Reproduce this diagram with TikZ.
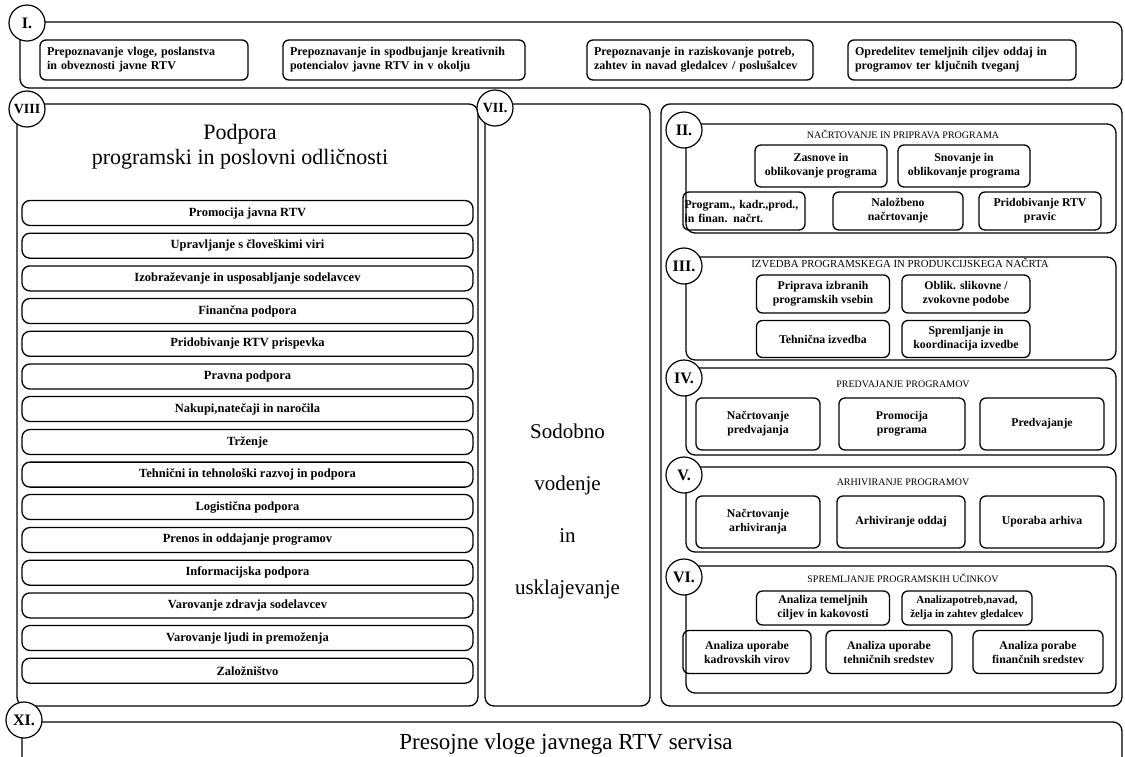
\documentclass[tikz,border=0pt]{standalone}
\usepackage{fontspec}
\setmainfont{Liberation Serif}
\begin{document}
\begin{tikzpicture}[x=1pt,y=-1pt,
 frame/.style={draw, line width=1.3pt, rounded corners=9pt, inner sep=0pt},
 num/.style={circle, draw, fill=white, line width=1.2pt, minimum size=36pt, inner sep=0pt, font=\fontsize{16}{16}\selectfont\bfseries},
 topbox/.style={draw, line width=1.3pt, rounded corners=6pt, align=left, font=\fontsize{12}{14}\selectfont\bfseries, minimum height=40pt, inner xsep=7pt},
 item/.style={draw, line width=1.3pt, rounded corners=8pt, minimum width=451pt, minimum height=25pt, inner sep=0pt, font=\fontsize{12.5}{14}\selectfont\bfseries},
 sbox/.style={draw, line width=1.3pt, rounded corners=6pt, align=center, inner sep=0pt, font=\fontsize{11.8}{14}\selectfont\bfseries},
 stitle/.style={font=\fontsize{10}{12}\selectfont, inner sep=0pt},
 big/.style={font=\fontsize{22}{25}\selectfont, align=center, inner sep=0pt}
]
\clip (0,0) rectangle (1125,756);
\fill[white] (0,0) rectangle (1125,756);

% ---- frames
\node[frame, minimum width=1102pt, minimum height=66pt] (fI) at (571,55) {};
\node[frame, minimum width=461pt, minimum height=602pt] (fVIII) at (247.5,405) {};
\node[frame, minimum width=165pt, minimum height=602pt] (fVII) at (567.5,405) {};
\node[frame, minimum width=461pt, minimum height=602pt] (fR) at (891.5,405) {};
\node[frame, minimum width=430pt, minimum height=109pt] (fII) at (901,178.5) {};
\node[frame, minimum width=430pt, minimum height=103pt] (fIII) at (901,308.5) {};
\node[frame, minimum width=430pt, minimum height=87pt] (fIV) at (901,411.5) {};
\node[frame, minimum width=430pt, minimum height=85pt] (fV) at (901,509.5) {};
\node[frame, minimum width=430pt, minimum height=127pt] (fVI) at (901,629.5) {};
\node[frame, minimum width=1100pt, minimum height=68pt] (fXI) at (572,756) {};

% ---- numbered circles
\node[num] (nI) at (27,23) {I.};
\node[num, font=\fontsize{14}{14}\selectfont\bfseries] (nVIII) at (27,109) {VIII};
\node[num, font=\fontsize{14}{14}\selectfont\bfseries] (nVII) at (495,108) {VII.};
\node[num] (nII) at (684,130) {II.};
\node[num] (nIII) at (684,266) {III.};
\node[num] (nIV) at (684,378) {IV.};
\node[num] (nV) at (684,475) {V.};
\node[num] (nVI) at (684,577) {VI.};
\node[num] (nXI) at (24,720) {XI.};

% ---- top band boxes
\node[topbox, minimum width=208pt, text width=194pt] (t1) at (144,60) {Prepoznavanje vloge, poslanstva\\in obveznosti javne RTV};
\node[topbox, minimum width=242pt, text width=228pt] (t2) at (404,60) {Prepoznavanje in spodbujanje kreativnih\\potencialov javne RTV in v okolju};
\node[topbox, minimum width=226pt, text width=212pt] (t3) at (700,60) {Prepoznavanje in raziskovanje potreb,\\zahtev in navad gledalcev / poslušalcev};
\node[topbox, minimum width=228pt, text width=214pt] (t4) at (962,60) {Opredelitev temeljnih ciljev oddaj in\\programov ter ključnih tveganj};

% ---- VIII
\node[big] (hVIII) at (240,147) {Podpora\\programski in poslovni odličnosti};
\node[item] (i1) at (247.5,213) {Promocija javna RTV};
\node[item] (i2) at (247.5,245.7) {Upravljanje s človeškimi viri};
\node[item] (i3) at (247.5,278.4) {Izobraževanje in usposabljanje sodelavcev};
\node[item] (i4) at (247.5,311) {Finančna podpora};
\node[item] (i5) at (247.5,343.8) {Pridobivanje RTV prispevka};
\node[item] (i6) at (247.5,376.5) {Pravna podpora};
\node[item] (i7) at (247.5,409) {Nakupi,natečaji in naročila};
\node[item] (i8) at (247.5,442) {Trženje};
\node[item] (i9) at (247.5,474.6) {Tehnični in tehnološki razvoj in podpora};
\node[item] (i10) at (247.5,507) {Logistična podpora};
\node[item] (i11) at (247.5,540) {Prenos in oddajanje programov};
\node[item] (i12) at (247.5,572.7) {Informacijska podpora};
\node[item] (i13) at (247.5,605.4) {Varovanje zdravja sodelavcev};
\node[item] (i14) at (247.5,638) {Varovanje ljudi in premoženja};
\node[item] (i15) at (247.5,670.7) {Založništvo};

% ---- VII
\node[big, font=\fontsize{21}{52}\selectfont] (hVII) at (567.5,511) {Sodobno\\vodenje\\in\\usklajevanje};

% ---- II
\node[stitle] (hII) at (903,134) {NAČRTOVANJE IN PRIPRAVA PROGRAMA};
\node[sbox, minimum width=132pt, minimum height=42pt] (b21) at (821,166) {Zasnove in\\oblikovanje programa};
\node[sbox, minimum width=132pt, minimum height=42pt] (b22) at (964,166) {Snovanje in\\oblikovanje programa};
\node[sbox, minimum width=122pt, minimum height=38pt, align=left, text width=119pt] (b23) at (744,211) {Program., kadr.,prod.,\\in finan. načrt.};
\node[sbox, minimum width=130pt, minimum height=38pt] (b24) at (898,211) {Naložbeno\\načrtovanje};
\node[sbox, minimum width=122pt, minimum height=38pt] (b25) at (1040,211) {Pridobivanje RTV\\pravic};

% ---- III
\node[stitle, font=\fontsize{10.8}{12}\selectfont] (hIII) at (900,263) {IZVEDBA PROGRAMSKEGA IN PRODUKCIJSKEGA NAČRTA};
\node[sbox, minimum width=133pt, minimum height=38pt] (b31) at (823,294) {Priprava izbranih\\programskih vsebin};
\node[sbox, minimum width=128pt, minimum height=38pt] (b32) at (966,294) {Oblik. slikovne /\\zvokovne podobe};
\node[sbox, minimum width=133pt, minimum height=37pt] (b33) at (823,339) {Tehnična izvedba};
\node[sbox, minimum width=128pt, minimum height=37pt] (b34) at (966,339) {Spremljanje in\\koordinacija izvedbe};

% ---- IV
\node[stitle] (hIV) at (903,384) {PREDVAJANJE PROGRAMOV};
\node[sbox, minimum width=124pt, minimum height=52pt] (b41) at (758,424) {Načrtovanje\\predvajanja};
\node[sbox, minimum width=126pt, minimum height=52pt] (b42) at (902,424) {Promocija\\programa};
\node[sbox, minimum width=124pt, minimum height=52pt] (b43) at (1042,424) {Predvajanje};

% ---- V
\node[stitle] (hV) at (903,482) {ARHIVIRANJE PROGRAMOV};
\node[sbox, minimum width=124pt, minimum height=52pt] (b51) at (758,522) {Načrtovanje\\arhiviranja};
\node[sbox, minimum width=128pt, minimum height=52pt] (b52) at (901,522) {Arhiviranje oddaj};
\node[sbox, minimum width=124pt, minimum height=52pt] (b53) at (1042,522) {Uporaba arhiva};

% ---- VI
\node[stitle] (hVI) at (903,578) {SPREMLJANJE PROGRAMSKIH UČINKOV};
\node[sbox, minimum width=133pt, minimum height=34pt] (b61) at (823,608) {Analiza temeljnih\\ciljev in kakovosti};
\node[sbox, minimum width=130pt, minimum height=34pt, font=\fontsize{11}{14}\selectfont\bfseries] (b62) at (967,608) {Analizapotreb,navad,\\želja in zahtev gledalcev};
\node[sbox, minimum width=128pt, minimum height=43pt] (b63) at (747,652) {Analiza uporabe\\kadrovskih virov};
\node[sbox, minimum width=126pt, minimum height=43pt] (b64) at (889,652) {Analiza uporabe\\tehničnih sredstev};
\node[sbox, minimum width=130pt, minimum height=43pt] (b65) at (1038,652) {Analiza porabe\\finančnih sredstev};

% ---- XI
\node[big, font=\fontsize{23}{25}\selectfont] (hXI) at (566,744) {Presojne vloge javnega RTV servisa};
\end{tikzpicture}
\end{document}
